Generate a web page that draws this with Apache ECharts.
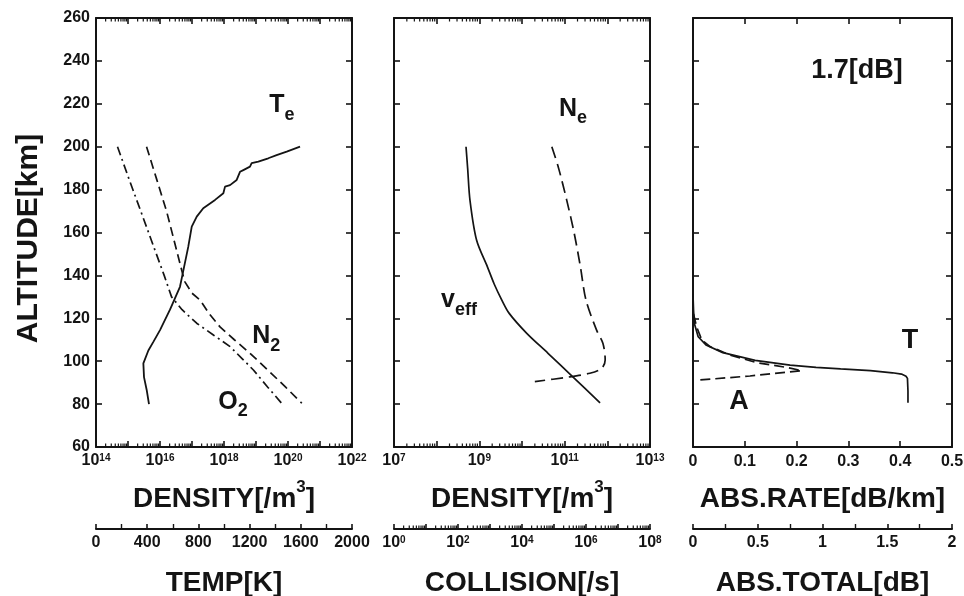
<!DOCTYPE html>
<html>
<head>
<meta charset="utf-8">
<script src="https://cdn.jsdelivr.net/npm/echarts@6/dist/echarts.min.js"></script>
<style>
  html, body { margin: 0; padding: 0; background: #fff; }
  #chart { width: 964px; height: 596px; }
</style>
</head>
<body>
<div id="chart"></div>
<script>
// ---- Profiles versus altitude (km) ----
// Electron temperature [K]
const teAlt = [80, 86.6, 92.6, 99, 105, 109, 114.5, 124, 134.7, 140.7, 153.4, 162.7, 167.4, 171.3, 175.2, 178.3, 181.4, 182.1, 184.5, 188.3, 189.1, 190.7, 192.3, 193, 194.6, 196.1, 197.7, 200];
const teK   = [414, 396, 375, 370, 409, 448, 500, 578, 656, 677, 721, 748, 787, 838, 930, 995, 1008, 1047, 1099, 1125, 1151, 1203, 1216, 1268, 1346, 1411, 1490, 1594];

// Neutral densities [/m3]
const n2Alt = [200, 185, 170, 155, 140.7, 137, 131.7, 128.5, 122, 116, 110, 103.7, 95, 88, 80.4];
const n2    = [3.8e15, 7.8e15, 1.6e16, 2.9e16, 5.1e16, 6.0e16, 1.0e17, 1.8e17, 3.5e17, 7.5e17, 2.1e18, 6.5e18, 2.7e19, 8.3e19, 2.7e20];
const o2Alt = [200, 185, 170, 155, 140, 130, 124, 117.7, 112, 106.8, 101, 95.9, 88, 80.4];
const o2    = [4.7e14, 1.07e15, 2.5e15, 5.8e15, 1.35e16, 2.3e16, 4.9e16, 1.4e17, 4.9e17, 1.55e18, 3.8e18, 8.3e18, 2.3e19, 6.3e19];

// Effective collision frequency [/s]
const veffAlt = [200, 190, 175, 156.5, 144, 136, 128.5, 122.3, 113, 103.7, 92.8, 80.6];
const veff    = [178, 200, 237, 380, 830, 1350, 2340, 3980, 1.41e4, 6.5e4, 3.8e5, 2.75e6];

// Electron density [/m3]
const neAlt = [200, 190, 175, 160, 144, 128.5, 114.5, 108.3, 100.6, 96.7, 94.4, 92.5, 90.5];
const ne    = [5.0e10, 7.2e10, 1.12e11, 1.66e11, 2.34e11, 3.16e11, 5.6e11, 7.9e11, 8.9e11, 7.4e11, 3.9e11, 1.12e11, 2.0e10];

// Absorption rate [dB/km]
const rateAlt = [122, 116, 109.9, 106.8, 102.9, 99.3, 97.1, 95.6, 93.1, 91.2];
const rate    = [0.001, 0.007, 0.017, 0.033, 0.071, 0.123, 0.181, 0.21, 0.110, 0.010];

// Accumulated absorption [dB]
const totalAlt = [131, 124, 117.7, 111.4, 107.6, 104, 100.4, 98.2, 97.1, 96.4, 95.6, 94.6, 94, 93, 92, 86, 80.6];
const total    = [0, 0.004, 0.01, 0.04, 0.10, 0.23, 0.48, 0.75, 0.95, 1.14, 1.37, 1.54, 1.61, 1.645, 1.656, 1.66, 1.66];

// ---- Axis ranges ----
const altRange = [60, 260];
const densRange1 = [1e14, 1e22];
const tempRange = [0, 2000];
const densRange2 = [1e7, 1e13];
const collRange = [1e0, 1e8];
const rateRange = [0, 0.5];
const totalRange = [0, 2];

const FONT = '"Liberation Sans", Arial, Helvetica, sans-serif';
const INK = '#141414';
const SECOND_OFFSET = 82;

const pair = (xs, ys) => xs.map((x, i) => [x, ys[i]]);

const axisLine = { show: true, onZero: false, lineStyle: { color: INK, width: 2 } };
const tickIn = (len) => ({ show: true, inside: true, length: len, lineStyle: { color: INK, width: 1.6 } });
const noSplit = { show: false };

const tickFont = { fontSize: 16, fontWeight: 'bold', fontFamily: FONT, color: INK };
const tickRich = {
  m: { fontSize: 16, fontWeight: 'bold', fontFamily: FONT, color: INK, lineHeight: 16, verticalAlign: 'bottom' },
  p: { fontSize: 10, fontWeight: 'bold', fontFamily: FONT, color: INK, lineHeight: 10, verticalAlign: 'top' }
};
// powers of ten, labelled every second decade
const logLabel = (firstExp) => ({
  show: true, margin: 6, rich: tickRich,
  formatter: (v) => {
    const e = Math.round(Math.log10(v));
    return (e - firstExp) % 2 === 0 ? '{m|10}{p|' + e + '}' : '';
  }
});
const plainLabel = (margin) => Object.assign({ show: true, margin: margin, formatter: (v) => String(v) }, tickFont);

const titleRich = {
  t: { fontSize: 28, fontWeight: 'bold', fontFamily: FONT, color: INK, verticalAlign: 'bottom', padding: [6, 0, 0, 0] },
  u: { fontSize: 17, fontWeight: 'bold', fontFamily: FONT, color: INK, verticalAlign: 'top' },
  y: { fontSize: 30, fontWeight: 'bold', fontFamily: FONT, color: INK, padding: [0, 12, 0, 0] }
};
const axisTitle = (text, gap) => ({
  name: text, nameLocation: 'middle', nameGap: gap, nameMoveOverlap: false,
  nameTextStyle: { rich: titleRich }
});

// annotation text with subscript
const subRich = {
  b: { fontSize: 25, fontWeight: 'bold', fontFamily: FONT, color: INK, verticalAlign: 'top', padding: [0, 0, 6, 0] },
  s: { fontSize: 18, fontWeight: 'bold', fontFamily: FONT, color: INK, verticalAlign: 'bottom' },
  big: { fontSize: 27, fontWeight: 'bold', fontFamily: FONT, color: INK }
};
const note = (coord, text) => ({
  symbol: 'circle', symbolSize: 0, silent: true,
  label: { show: true, position: 'inside', formatter: text, rich: subRich },
  data: [{ coord: coord }]
});

// logarithmic minor ticks (2..9 within each decade)
function logMinorTicks(xIdx, yIdx, range, sides) {
  const lo = Math.round(Math.log10(range[0]));
  const hi = Math.round(Math.log10(range[1]));
  const vals = [];
  for (let e = lo; e < hi; e++) {
    for (let k = 2; k <= 9; k++) vals.push([k * Math.pow(10, e), altRange[0]]);
  }
  return {
    type: 'custom', xAxisIndex: xIdx, yAxisIndex: yIdx, silent: true, clip: false, z: 5,
    data: vals,
    renderItem: (params, api) => {
      const b = api.coord([api.value(0), altRange[0]]);
      const t = api.coord([api.value(0), altRange[1]]);
      const kids = sides.map((s) => {
        let y0, dir;
        if (s === 'bottom') { y0 = b[1]; dir = -1; }
        else if (s === 'top') { y0 = t[1]; dir = 1; }
        else { y0 = b[1] + SECOND_OFFSET; dir = -1; }
        return { type: 'line', shape: { x1: b[0], y1: y0, x2: b[0], y2: y0 + dir * 3.5 },
                 style: { stroke: INK, lineWidth: 1.2 } };
      });
      return { type: 'group', children: kids };
    }
  };
}

const frameX = (grid, type, range, pos, extra) => Object.assign({
  gridIndex: grid, type: type, min: range[0], max: range[1], position: pos,
  axisLine: axisLine, axisTick: tickIn(6), axisLabel: { show: false }, splitLine: noSplit
}, extra || {});

const frameY = (grid, pos, extra) => Object.assign({
  gridIndex: grid, type: 'value', min: altRange[0], max: altRange[1], interval: 20, position: pos,
  axisLine: axisLine, axisTick: tickIn(6), axisLabel: { show: false }, splitLine: noSplit
}, extra || {});

const curve = (xIdx, yIdx, data, dash, width, extra) => Object.assign({
  type: 'line', xAxisIndex: xIdx, yAxisIndex: yIdx, data: data,
  showSymbol: false, symbol: 'none', smooth: false, silent: true,
  lineStyle: { color: INK, width: width || 1.7, type: dash || 'solid' }
}, extra || {});

const minorLinear = { show: true, splitNumber: 2, length: 5, lineStyle: { color: INK, width: 1.4 } };

const panel = (left, width) => ({ left: left, top: 18, width: width, height: 429, outerBoundsMode: 'none', containLabel: false });

const option = {
  animation: false,
  backgroundColor: '#ffffff',
  textStyle: { fontFamily: FONT },
  grid: [panel(96, 256), panel(394, 256), panel(693, 259)],
  xAxis: [
    // 0-2: neutral atmosphere panel
    frameX(0, 'log', densRange1, 'bottom', Object.assign({ axisLabel: logLabel(14) }, axisTitle('{t|DENSITY[/m}{u|3}{t|]}', 32))),
    frameX(0, 'log', densRange1, 'top'),
    frameX(0, 'value', tempRange, 'bottom', Object.assign({
      offset: SECOND_OFFSET, interval: 400, axisTick: tickIn(5), minorTick: minorLinear,
      axisLabel: plainLabel(6)
    }, axisTitle('{t|TEMP[K]}', 34))),
    // 3-5: ionosphere panel
    frameX(1, 'log', densRange2, 'bottom', Object.assign({ axisLabel: logLabel(7) }, axisTitle('{t|DENSITY[/m}{u|3}{t|]}', 32))),
    frameX(1, 'log', densRange2, 'top'),
    frameX(1, 'log', collRange, 'bottom', Object.assign({
      offset: SECOND_OFFSET, axisTick: tickIn(5), axisLabel: logLabel(0)
    }, axisTitle('{t|COLLISION[/s]}', 34))),
    // 6-8: absorption panel
    frameX(2, 'value', rateRange, 'bottom', Object.assign({
      interval: 0.1, axisLabel: plainLabel(7)
    }, axisTitle('{t|ABS.RATE[dB/km]}', 32))),
    frameX(2, 'value', rateRange, 'top', { interval: 0.1 }),
    frameX(2, 'value', totalRange, 'bottom', Object.assign({
      offset: SECOND_OFFSET, interval: 0.5, axisTick: tickIn(5), minorTick: minorLinear,
      axisLabel: plainLabel(6)
    }, axisTitle('{t|ABS.TOTAL[dB]}', 34)))
  ],
  yAxis: [
    frameY(0, 'left', Object.assign({
      axisLabel: Object.assign({ show: true, margin: 6 }, tickFont)
    }, axisTitle('{y|ALTITUDE[km]}', 52))),
    frameY(0, 'right'),
    frameY(1, 'left'),
    frameY(1, 'right'),
    frameY(2, 'left'),
    frameY(2, 'right')
  ],
  series: [
    curve(2, 0, pair(teK, teAlt), 'solid', 1.8, { markPoint: note([1453, 218], '{b|T}{s|e}') }),
    curve(0, 0, pair(n2, n2Alt), [9, 5], 1.7, { markPoint: note([2.1e19, 110.3], '{b|N}{s|2}') }),
    curve(0, 0, pair(o2, o2Alt), [9, 4, 2, 4], 1.7, { markPoint: note([1.9e18, 79.6], '{b|O}{s|2}') }),
    curve(5, 2, pair(veff, veffAlt), 'solid', 1.7, { smooth: 0.3, markPoint: note([107, 127.1], '{b|v}{s|eff}') }),
    curve(3, 2, pair(ne, neAlt), [12, 6], 1.7, { smooth: 0.3, markPoint: note([1.57e11, 216.2], '{b|N}{s|e}') }),
    curve(6, 4, pair(rate, rateAlt), [10, 5], 1.7, { markPoint: note([0.0888, 81], '{big|A}') }),
    curve(8, 4, pair(total, totalAlt), 'solid', 1.7, {
      markPoint: {
        symbol: 'circle', symbolSize: 0, silent: true,
        label: { show: true, position: 'inside', rich: subRich, formatter: (p) => p.name },
        data: [
          { coord: [1.676, 109.4], name: '{big|T}' },
          { coord: [1.266, 235.3], name: '{big|1.7[dB]}' }
        ]
      }
    }),
    logMinorTicks(0, 0, densRange1, ['bottom', 'top']),
    logMinorTicks(3, 2, densRange2, ['bottom', 'top']),
    logMinorTicks(5, 2, collRange, ['offset'])
  ]
};

const chart = echarts.init(document.getElementById('chart'), null, { renderer: 'canvas' });
chart.setOption(option);
</script>
</body>
</html>
